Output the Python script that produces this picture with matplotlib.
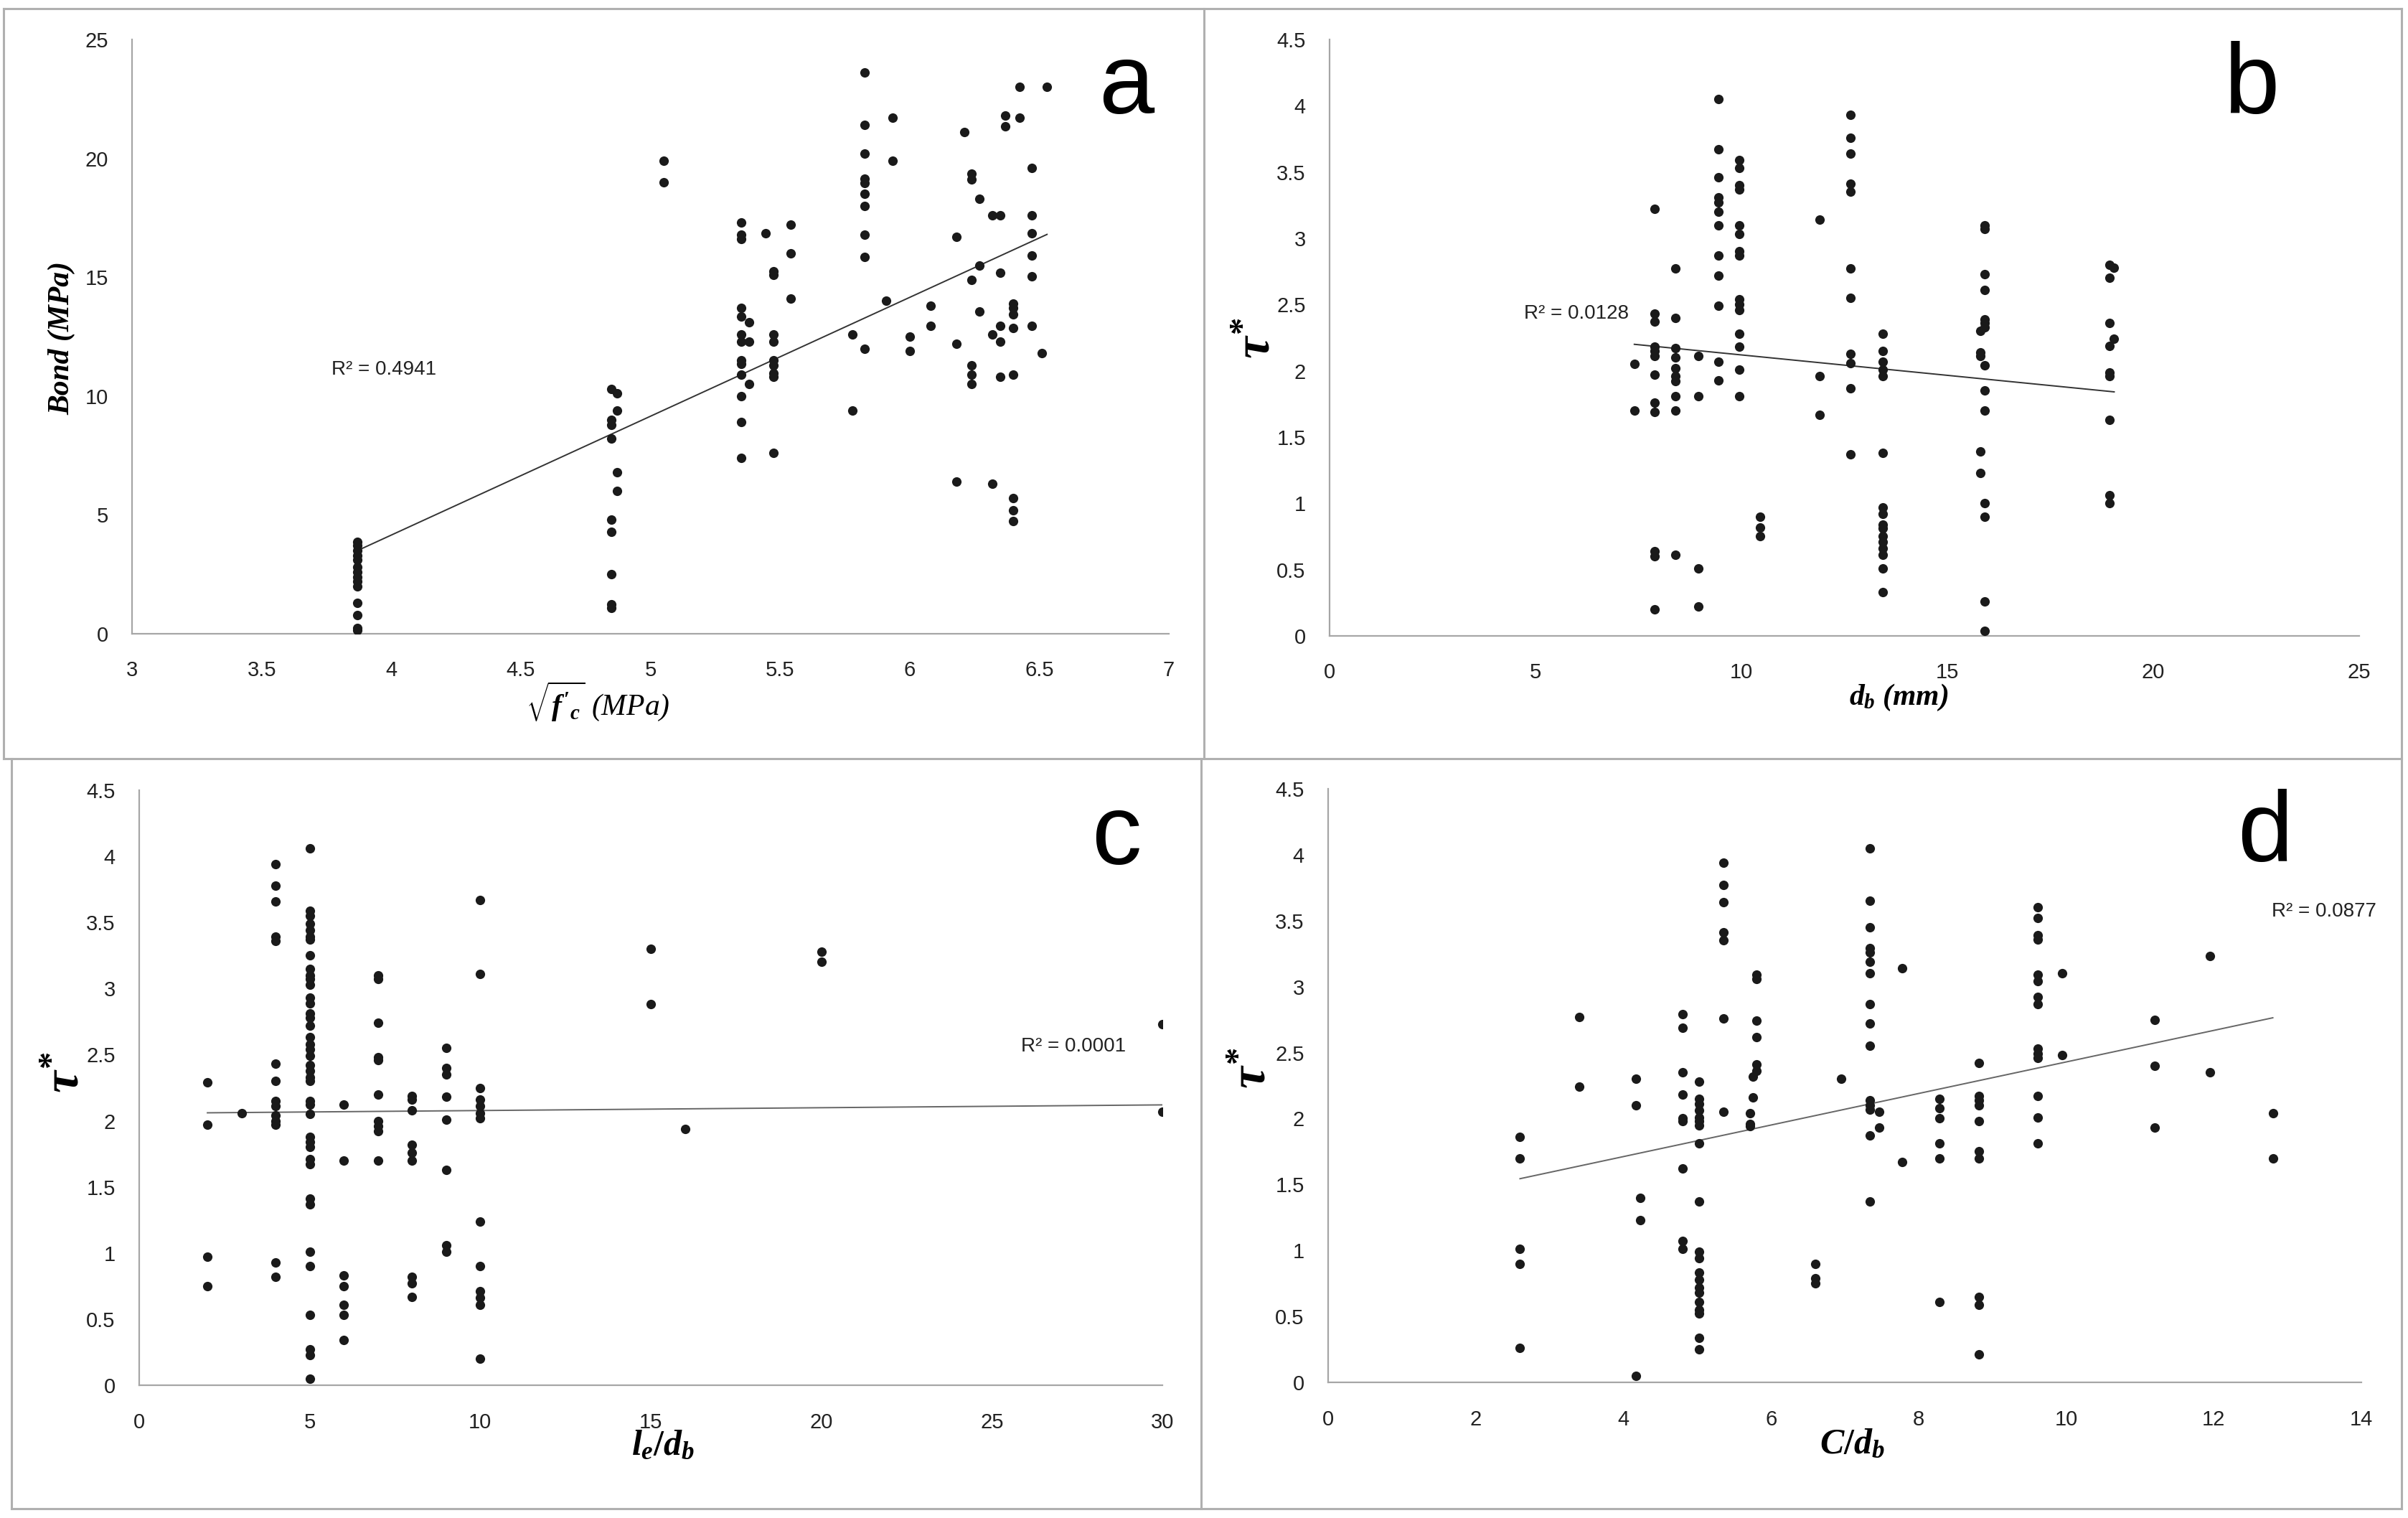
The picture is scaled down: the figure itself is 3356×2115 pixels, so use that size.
import numpy as np
import matplotlib
matplotlib.use('Agg')
import matplotlib.pyplot as plt
from matplotlib import font_manager
from matplotlib.lines import Line2D

# ---- data (column x : y values) ----
a_cols = [3.87, 4.85, 4.87, 5.05, 5.35, 5.38, 5.445, 5.475, 5.54, 5.78, 5.825, 5.91,
          5.935, 6.0, 6.08, 6.18, 6.21, 6.24, 6.27, 6.32, 6.35, 6.37, 6.40, 6.425,
          6.47, 6.51, 6.53]
a_vals = [[3.85, 3.7, 3.5, 3.3, 3.1, 2.8, 2.6, 2.4, 2.2, 2.0, 1.3, 0.8, 0.25, 0.15],
          [10.3, 9.0, 8.8, 8.2, 4.8, 4.3, 2.5, 1.25, 1.1],
          [10.1, 9.4, 6.8, 6.0],
          [19.9, 19.0],
          [17.3, 16.8, 16.6, 13.7, 13.35, 12.6, 12.3, 11.5, 11.35, 10.9, 10.0, 8.9, 7.4],
          [13.1, 12.3, 10.5],
          [16.85],
          [15.25, 15.1, 12.6, 12.3, 11.5, 11.3, 10.95, 10.8, 7.6],
          [17.2, 16.0, 14.1],
          [12.6, 9.4],
          [23.6, 21.4, 20.2, 19.15, 18.95, 18.5, 18.0, 16.8, 15.85, 12.0],
          [14.0],
          [21.7, 19.9],
          [12.5, 11.9],
          [13.8, 12.95],
          [16.7, 12.2, 6.4],
          [21.1],
          [19.35, 19.1, 14.9, 11.3, 10.9, 10.5],
          [18.3, 15.5, 13.55],
          [17.6, 12.6, 6.3],
          [17.6, 15.2, 12.95, 12.3, 10.8],
          [21.8, 21.35],
          [13.9, 13.7, 13.45, 12.85, 10.9, 5.7, 5.2, 4.75],
          [23.0, 21.7],
          [19.6, 17.6, 16.85, 15.9, 15.05, 12.95],
          [11.8],
          [23.0]]

b_cols = [7.4, 7.9, 8.4, 8.95, 9.45, 9.95, 10.45, 11.9, 12.65, 13.43, 15.8, 15.9, 18.94, 19.05]
b_vals = [[2.05, 1.70],
          [3.22, 2.43, 2.37, 2.18, 2.15, 2.11, 1.97, 1.76, 1.69, 0.64, 0.6, 0.2],
          [2.77, 2.4, 2.17, 2.1, 2.02, 1.96, 1.92, 1.81, 1.70, 0.61],
          [2.11, 1.81, 0.51, 0.22],
          [4.05, 3.67, 3.46, 3.31, 3.27, 3.2, 3.1, 2.87, 2.72, 2.49, 2.07, 1.93],
          [3.59, 3.53, 3.4, 3.37, 3.1, 3.03, 2.9, 2.87, 2.54, 2.5, 2.46, 2.28, 2.18, 2.01, 1.81],
          [0.9, 0.82, 0.75],
          [3.14, 1.96, 1.67],
          [3.93, 3.76, 3.64, 3.41, 3.35, 2.77, 2.55, 2.13, 2.06, 1.87, 1.37],
          [2.28, 2.15, 2.07, 2.01, 1.96, 1.38, 0.97, 0.92, 0.84, 0.81, 0.75, 0.71, 0.66, 0.61, 0.51, 0.33],
          [2.3, 2.14, 2.11, 1.39, 1.23],
          [3.1, 3.07, 2.73, 2.61, 2.39, 2.36, 2.33, 2.04, 1.85, 1.70, 1.0, 0.9, 0.26, 0.04],
          [2.8, 2.7, 2.36, 2.19, 1.99, 1.96, 1.63, 1.06, 1.0],
          [2.78, 2.24]]

c_cols = [2, 3, 4, 5, 6, 7, 8, 9, 10, 15, 16, 20, 30]
c_vals = [[2.29, 1.97, 0.97, 0.75],
          [2.06],
          [3.94, 3.78, 3.66, 3.39, 3.36, 2.43, 2.3, 2.15, 2.11, 2.04, 2.0, 1.97, 0.93, 0.82],
          [4.06, 3.59, 3.55, 3.49, 3.44, 3.39, 3.37, 3.25, 3.15, 3.1, 3.07, 3.03, 2.93, 2.89,
           2.81, 2.78, 2.72, 2.63, 2.58, 2.54, 2.49, 2.42, 2.38, 2.33, 2.3, 2.15, 2.12, 2.05,
           1.88, 1.84, 1.8, 1.71, 1.67, 1.41, 1.37, 1.01, 0.9, 0.53, 0.27, 0.23, 0.05],
          [2.12, 1.70, 0.83, 0.75, 0.61, 0.53, 0.34],
          [3.1, 3.07, 2.74, 2.48, 2.46, 2.2, 2.0, 1.96, 1.92, 1.70],
          [2.19, 2.16, 2.08, 1.82, 1.76, 1.70, 0.82, 0.77, 0.67],
          [2.55, 2.4, 2.35, 2.18, 2.01, 1.63, 1.06, 1.01],
          [3.67, 3.11, 2.25, 2.16, 2.11, 2.06, 2.02, 1.24, 0.9, 0.71, 0.66, 0.61, 0.2],
          [3.3, 2.88],
          [1.94],
          [3.28, 3.2],
          [2.73, 2.07]]

d_cols = [2.6, 3.4, 4.17, 4.23, 4.8, 5.03, 5.36, 5.72, 5.76, 5.8, 6.6, 6.95, 7.34, 7.47,
          7.78, 8.28, 8.82, 9.62, 9.95, 11.2, 11.95, 12.8]
d_vals = [[1.86, 1.70, 1.01, 0.9, 0.26],
          [2.77, 2.24],
          [2.3, 2.1, 0.05],
          [1.40, 1.23],
          [2.79, 2.69, 2.35, 2.18, 2.0, 1.98, 1.62, 1.07, 1.01],
          [2.28, 2.15, 2.11, 2.06, 2.01, 1.98, 1.95, 1.81, 1.37, 0.99, 0.94, 0.83, 0.78,
           0.72, 0.68, 0.61, 0.55, 0.52, 0.34, 0.25],
          [3.94, 3.77, 3.64, 3.41, 3.35, 2.76, 2.05],
          [2.04, 1.96, 1.94],
          [2.32, 2.16],
          [3.09, 3.06, 2.74, 2.62, 2.41, 2.36],
          [0.9, 0.79, 0.75],
          [2.3],
          [4.05, 3.65, 3.45, 3.29, 3.26, 3.19, 3.1, 2.87, 2.72, 2.55, 2.14, 2.1, 2.07, 1.87, 1.37],
          [2.05, 1.93],
          [3.14, 1.67],
          [2.15, 2.08, 2.0, 1.81, 1.70, 0.61],
          [2.42, 2.17, 2.14, 2.1, 1.98, 1.75, 1.70, 0.65, 0.59, 0.21],
          [3.6, 3.52, 3.39, 3.36, 3.09, 3.04, 2.92, 2.87, 2.53, 2.49, 2.46, 2.17, 2.01, 1.81],
          [3.1, 2.48],
          [2.75, 2.4, 1.93],
          [3.23, 2.35],
          [2.04, 1.70]]

# linear trendlines as shown in the picture (slope, intercept)
trend = [(5.0, -15.85), (-0.0308, 2.428), (0.00214, 2.056), (0.1196, 1.233)]
r2_text = ['R\u00b2 = 0.4941', 'R\u00b2 = 0.0128', 'R\u00b2 = 0.0001', 'R\u00b2 = 0.0877']

# ---- fonts ----
names = {f.name for f in font_manager.fontManager.ttflist}
sans = 'Liberation Sans Narrow' if 'Liberation Sans Narrow' in names else 'Liberation Sans'
plt.rcParams['font.family'] = [sans, 'DejaVu Sans']
plt.rcParams['mathtext.fontset'] = 'custom'
plt.rcParams['mathtext.it'] = 'Liberation Serif:italic:bold'
plt.rcParams['mathtext.rm'] = 'Liberation Serif:bold'
plt.rcParams['mathtext.bf'] = 'Liberation Serif:bold'

W, H = 3356, 2115
fig = plt.figure(figsize=(W / 100, H / 100), dpi=100)


def flat(cols, vals):
    x = np.array([c for c, v in zip(cols, vals) for _ in v])
    y = np.array([yy for v in vals for yy in v])
    return x, y


def make_axes(l, r, b, t):
    # pixel box -> figure fraction
    return fig.add_axes([l / W, 1 - b / H, (r - l) / W, (b - t) / H])


panels = [
    dict(d=(a_cols, a_vals), box=(184, 1629, 883, 55), xlim=(3, 7), xt=np.arange(3, 7.01, 0.5),
         ylim=(0, 25), yt=np.arange(0, 26, 5), xl=r"$\sqrt{f'_{c}}$ (MPa)", yl='Bond (MPa)',
         xlp=(0.449, -0.114), ylp=(-0.068, 0.498), r2=(3.77, 11.1), let='a', letp=(1570, 158),
         lc='#333333', xs=30),
    dict(d=(b_cols, b_vals), box=(1853, 3288, 886, 55), xlim=(0, 25), xt=np.arange(0, 26, 5),
         ylim=(0, 4.5), yt=np.arange(0, 4.51, 0.5), xl=r'$d_b$ (mm)', yl=r'$\tau^{*}$',
         xlp=(0.553, -0.104), ylp=(-0.071, 0.499), r2=(4.72, 2.43), let='b', letp=(3138, 158),
         lc='#333333', xs=30),
    dict(d=(c_cols, c_vals), box=(194, 1620, 1930, 1101), xlim=(0, 30), xt=np.arange(0, 31, 5),
         ylim=(0, 4.5), yt=np.arange(0, 4.51, 0.5), xl=r'$l_e/d_b$', yl=r'$\tau^{*}$',
         xlp=(0.512, -0.103), ylp=(-0.072, 0.526), r2=(25.85, 2.56), let='c', letp=(1556, 1204),
         lc='#666666', xs=36),
    dict(d=(d_cols, d_vals), box=(1851, 3291, 1926, 1099), xlim=(0, 14), xt=np.arange(0, 15, 2),
         ylim=(0, 4.5), yt=np.arange(0, 4.51, 0.5), xl=r'$C/d_b$', yl=r'$\tau^{*}$',
         xlp=(0.507, -0.105), ylp=(-0.073, 0.53), r2=(12.78, 3.57), let='d', letp=(3157, 1200),
         lc='#666666', xs=36),
]

for i, p in enumerate(panels):
    l, r, b, t = p['box']
    ax = make_axes(l, r, b, t)
    x, y = flat(*p['d'])
    ax.plot(x, y, 'o', color='#1a1a1a', markersize=9.5, markeredgewidth=0, zorder=3)

    k, c0 = trend[i]
    xx = np.array([x.min(), x.max()])
    ax.plot(xx, k * xx + c0, '-', color=p['lc'], lw=1.4, zorder=2)

    ax.set_xlim(*p['xlim'])
    ax.set_ylim(*p['ylim'])
    ax.set_xticks(p['xt'])
    ax.set_yticks(p['yt'])
    ax.xaxis.set_major_formatter(matplotlib.ticker.FormatStrFormatter('%g'))
    ax.yaxis.set_major_formatter(matplotlib.ticker.FormatStrFormatter('%g'))
    ax.tick_params(length=0, labelsize=21, colors='#222222')
    ax.tick_params(axis='x', pad=27)
    ax.tick_params(axis='y', pad=24)
    for s in ['top', 'right']:
        ax.spines[s].set_visible(False)
    for s in ['left', 'bottom']:
        ax.spines[s].set_color('#a6a6a6')
        ax.spines[s].set_linewidth(1.6)

    if p['let'] == 'a':
        ax.set_xlabel(p['xl'], fontsize=p['xs'], family='Liberation Serif', style='italic')
        ax.set_ylabel(p['yl'], fontsize=30, family='Liberation Serif', style='italic', weight='bold')
    else:
        ax.set_xlabel(p['xl'], fontsize=p['xs'], family='Liberation Serif', style='italic', weight='bold')
        ax.set_ylabel(p['yl'], fontsize=50)
    ax.xaxis.set_label_coords(*p['xlp'])
    ax.yaxis.set_label_coords(*p['ylp'])
    ax.xaxis.label.set_va('center')
    ax.yaxis.label.set_va('center')

    ax.text(p['r2'][0], p['r2'][1], r2_text[i], fontsize=20,
            color='#222222', ha='left', va='center')
    fig.text(p['letp'][0] / W, 1 - p['letp'][1] / H, p['let'], fontsize=100,
             ha='center', va='baseline', color='black')

# panel borders
gray = '#b0b0b0'
segs = [((5, 12), (3347, 12)), ((5, 1057), (3347, 1057)), ((16, 2102), (3347, 2102)),
        ((5, 12), (5, 1057)), ((16, 1057), (16, 2102)), ((1678, 12), (1678, 1057)),
        ((1674, 1057), (1674, 2102)), ((3347, 12), (3347, 2102))]
for (x0, y0), (x1, y1) in segs:
    fig.add_artist(Line2D([x0 / W, x1 / W], [1 - y0 / H, 1 - y1 / H], color=gray, lw=2.2))

fig.savefig('out.png', dpi=100)
